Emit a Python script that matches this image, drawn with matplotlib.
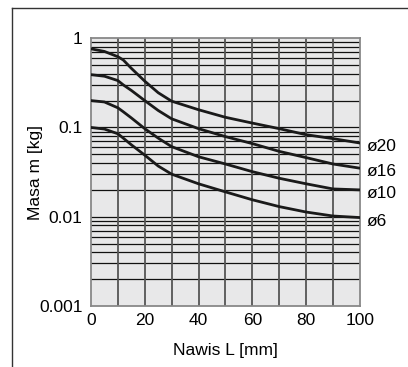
import matplotlib
matplotlib.use('Agg')
import matplotlib.pyplot as plt
from matplotlib.lines import Line2D
from matplotlib.ticker import FixedLocator, NullFormatter

plt.rcParams['font.family'] = ['Liberation Sans', 'DejaVu Sans']

# Nawis L [mm]
nawis = [0, 5, 10, 12, 15, 20, 25, 30, 40, 50, 60, 70, 80, 90, 100]

# Masa m [kg] dla kazdej srednicy
masa_20 = [0.76, 0.71, 0.62, 0.57, 0.46, 0.33, 0.245, 0.197, 0.158, 0.13, 0.112, 0.097, 0.083, 0.075, 0.067]
masa_16 = [0.39, 0.375, 0.335, 0.30, 0.26, 0.20, 0.155, 0.125, 0.097, 0.079, 0.066, 0.054, 0.046, 0.039, 0.035]
masa_10 = [0.20, 0.193, 0.166, 0.15, 0.128, 0.097, 0.076, 0.061, 0.047, 0.039, 0.032, 0.027, 0.0234, 0.0205, 0.020]
masa_6 = [0.100, 0.096, 0.085, 0.076, 0.064, 0.049, 0.037, 0.030, 0.0234, 0.019, 0.0155, 0.013, 0.0113, 0.0102, 0.0098]

etykiety = ['ø20', 'ø16', 'ø10', 'ø6']
serie = [masa_20, masa_16, masa_10, masa_6]

fig = plt.figure(figsize=(4.08, 3.67), dpi=100)
ax = fig.add_axes([0.223, 0.166, 0.659, 0.730])
ax.set_facecolor('#e8e8e9')

# siatka
minor_y = [m * 10.0 ** e for e in (-3, -2, -1) for m in range(2, 10)]
for y in minor_y:
    ax.axhline(y, color='#111111', lw=0.9, zorder=1)
for y in [0.01, 0.1]:
    ax.axhline(y, color='#111111', lw=0.9, zorder=1)
for x in range(10, 100, 10):
    ax.axvline(x, color='#555555', lw=1.3, zorder=1)

for masa in serie:
    ax.plot(nawis, masa, color='#1a1a1a', lw=2.0, zorder=3, solid_capstyle='round')

ax.set_yscale('log')
ax.set_xlim(0, 100)
ax.set_ylim(0.001, 1)
ax.set_xticks([0, 20, 40, 60, 80, 100])
ax.set_yticks([0.001, 0.01, 0.1, 1])
ax.set_yticklabels(['0.001', '0.01', '0.1', '1'])
ax.yaxis.set_minor_locator(FixedLocator([]))
ax.yaxis.set_minor_formatter(NullFormatter())
ax.tick_params(axis='x', length=0, labelsize=12.5, pad=5)
ax.tick_params(axis='y', length=0, labelsize=12.5, pad=6)
for s in ax.spines.values():
    s.set_color('#888888')
    s.set_linewidth(1.3)

ax.set_xlabel('Nawis L [mm]', fontsize=12.5, labelpad=11)
ax.set_ylabel('Masa m [kg]', fontsize=12.5, labelpad=-3)

for masa, txt in zip(serie, etykiety):
    ax.annotate(txt, xy=(100, masa[-1]), xytext=(5, -2.5), textcoords='offset points',
                fontsize=12.5, va='center', ha='left', annotation_clip=False)

# ramka
fig.add_artist(Line2D([12 / 408, 1.0], [1 - 8 / 367, 1 - 8 / 367], color='#333333', lw=1.0))
fig.add_artist(Line2D([12 / 408, 12 / 408], [0.0, 1 - 8 / 367], color='#333333', lw=1.0))

fig.savefig('out.png', dpi=100)
